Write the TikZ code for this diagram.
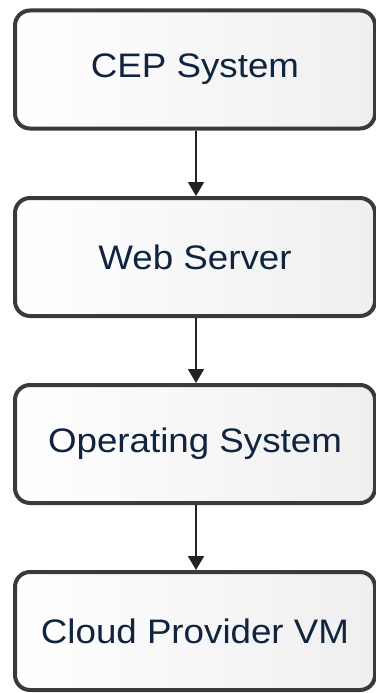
\documentclass[tikz,border=0pt]{standalone}
\usepackage{fontspec}
\setmainfont{Liberation Sans}
\usetikzlibrary{arrows.meta}
\definecolor{boxedge}{HTML}{3A3A3A}
\definecolor{boxtext}{HTML}{10243F}
\definecolor{arrowcol}{HTML}{222222}
\definecolor{shadeend}{HTML}{EFEFEF}
\tikzset{
  layerbox/.style={draw=boxedge, line width=4pt, rounded corners=15pt,
    minimum width=360pt, minimum height=118pt, inner sep=0pt,
    shading=axis, left color=white, right color=shadeend, shading angle=90,
    text=boxtext, font=\fontsize{34}{40}\selectfont},
  flow/.style={draw=arrowcol, line width=2pt,
    -{Triangle[width=16pt,length=14pt]}}
}
\newcommand{\wide}[1]{\scalebox{1.08}[1]{#1}}
\begin{document}
\begin{tikzpicture}[x=1pt,y=1pt]
  \useasboundingbox (0,0) rectangle (375,-693);
  \node[layerbox] (cep) at (195,-69.5) {\wide{CEP System}};
  \node[layerbox] (web) at (195,-257) {\wide{Web Server}};
  \node[layerbox] (os)  at (195,-444) {\wide{Operating System}};
  \node[layerbox] (vm)  at (195,-631) {\wide{Cloud Provider VM}};
  \draw[flow] ([xshift=1pt]cep.south) -- ([xshift=1pt]web.north);
  \draw[flow] ([xshift=1pt]web.south) -- ([xshift=1pt]os.north);
  \draw[flow] ([xshift=1pt]os.south) -- ([xshift=1pt]vm.north);
\end{tikzpicture}
\end{document}
